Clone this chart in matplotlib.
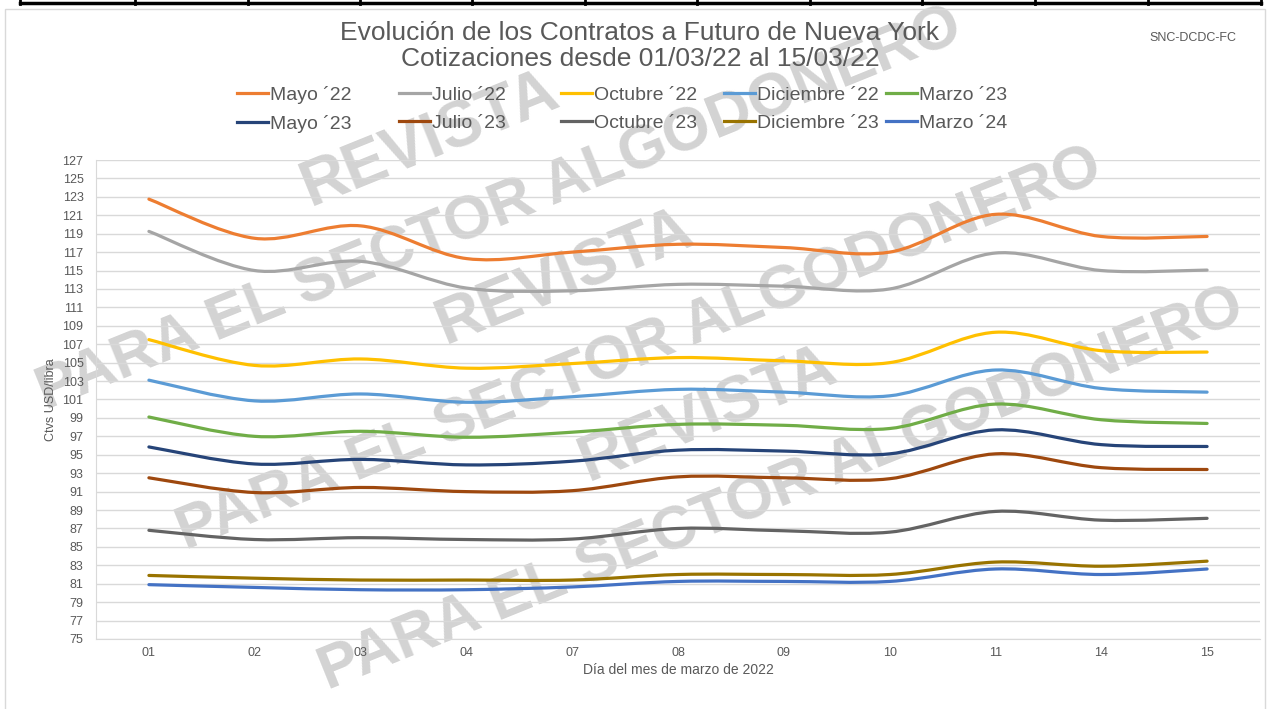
import matplotlib
matplotlib.use('Agg')
import matplotlib.pyplot as plt
from matplotlib.path import Path
from matplotlib.patches import PathPatch, Rectangle
from matplotlib.lines import Line2D
import numpy as np

plt.rcParams['font.family'] = ['Liberation Sans', 'DejaVu Sans']

# ---------------- data ----------------
days = ['01', '02', '03', '04', '07', '08', '09', '10', '11', '14', '15']
mayo22 = [122.75, 118.5, 119.85, 116.3, 117.0, 117.85, 117.5, 117.0, 121.1, 118.7, 118.7]
julio22 = [119.25, 115.0, 116.0, 113.1, 112.8, 113.5, 113.3, 113.0, 116.9, 115.0, 115.05]
octubre22 = [107.5, 104.7, 105.4, 104.4, 104.9, 105.55, 105.2, 105.0, 108.3, 106.3, 106.15]
diciembre22 = [103.1, 100.85, 101.6, 100.7, 101.3, 102.1, 101.8, 101.4, 104.2, 102.2, 101.8]
marzo23 = [99.1, 97.0, 97.55, 96.9, 97.45, 98.3, 98.2, 97.85, 100.5, 98.8, 98.4]
mayo23 = [95.85, 94.0, 94.5, 93.9, 94.3, 95.5, 95.4, 95.1, 97.7, 96.1, 95.9]
julio23 = [92.5, 90.9, 91.45, 91.0, 91.1, 92.6, 92.5, 92.4, 95.1, 93.6, 93.4]
octubre23 = [86.8, 85.8, 86.0, 85.8, 85.85, 87.0, 86.75, 86.6, 88.85, 87.9, 88.1]
diciembre23 = [81.9, 81.6, 81.4, 81.4, 81.4, 82.0, 82.0, 82.0, 83.35, 82.9, 83.45]
marzo24 = [80.9, 80.6, 80.35, 80.35, 80.65, 81.25, 81.25, 81.25, 82.6, 82.0, 82.6]

series_names = ['Mayo \u00b422', 'Julio \u00b422', 'Octubre \u00b422', 'Diciembre \u00b422', 'Marzo \u00b423',
                'Mayo \u00b423', 'Julio \u00b423', 'Octubre \u00b423', 'Diciembre \u00b423', 'Marzo \u00b424']
series_values = [mayo22, julio22, octubre22, diciembre22, marzo23,
                 mayo23, julio23, octubre23, diciembre23, marzo24]
colors = ['#ED7D31', '#A5A5A5', '#FFC000', '#5B9BD5', '#70AD47',
          '#264478', '#9E480E', '#636363', '#997300', '#4472C4']

yticks = list(range(75, 128, 2))

title_1 = 'Evoluci\u00f3n de los Contratos a Futuro de Nueva York'
title_2 = 'Cotizaciones desde 01/03/22 al 15/03/22'
ylabel = 'Ctvs USD/libra'
xlabel = 'D\u00eda del mes de marzo de 2022'
source = 'SNC-DCDC-FC'

TXT = '#595959'
GRID = '#d9d9d9'
W, H = 1270, 709


def smooth_path(xs, ys):
    pts = np.column_stack([xs, ys]).astype(float)
    n = len(pts)
    verts = [pts[0]]
    codes = [Path.MOVETO]
    for i in range(n - 1):
        p0 = pts[i - 1] if i > 0 else pts[i]
        p1 = pts[i]
        p2 = pts[i + 1]
        p3 = pts[i + 2] if i + 2 < n else pts[i + 1]
        c1 = p1 + (p2 - p0) / 6.0
        c2 = p2 - (p3 - p1) / 6.0
        verts += [c1, c2, p2]
        codes += [Path.CURVE4] * 3
    return Path(verts, codes)


fig = plt.figure(figsize=(W / 100, H / 100), dpi=100)
fig.patch.set_facecolor('white')

# decorative top table edge and chart border
fig.add_artist(Line2D([20 / W, 1261 / W], [1 - 3 / H, 1 - 3 / H], color='black', lw=2.5,
                      transform=fig.transFigure))
for xv in [20, 135, 248, 360, 472, 585, 697, 810, 922, 1035, 1148, 1261]:
    fig.add_artist(Line2D([xv / W, xv / W], [1.0, 1 - 4 / H], color='black', lw=2.0,
                          transform=fig.transFigure))
fig.add_artist(Rectangle((5 / W, -0.01), (1265 - 5) / W, 1 - 9 / H + 0.01, fill=False,
                         edgecolor=GRID, lw=1.0, transform=fig.transFigure))

# watermark
wm_color = '#d3d3d3'
for (cx, cy) in [(500, 210), (640, 350), (782, 490)]:
    fig.text(cx / W, 1 - cy / H, 'PARA EL SECTOR ALGODONERO', rotation=22, rotation_mode='anchor',
             ha='center', va='center', fontsize=44, fontweight='heavy', color=wm_color, zorder=-5)
for (cx, cy) in [(430, 140), (565, 278), (708, 415)]:
    fig.text(cx / W, 1 - cy / H, 'REVISTA', rotation=22, rotation_mode='anchor',
             ha='center', va='center', fontsize=46, fontweight='heavy', color=wm_color, zorder=-5)

ax = fig.add_axes([96 / W, 1 - 639 / H, (1260 - 96) / W, (639 - 160) / H])
ax.patch.set_alpha(0)

x = np.arange(len(days))
for vals, col in zip(series_values, colors):
    ax.add_patch(PathPatch(smooth_path(x, vals), facecolor='none', edgecolor=col, lw=2.3,
                           capstyle='round', joinstyle='round', zorder=3))

ax.set_xlim(-0.5, len(days) - 0.5)
ax.set_ylim(75, 127)
ax.set_yticks(yticks)
ax.set_xticks(x)
ax.set_xticklabels(days)
ax.yaxis.grid(True, color=GRID, lw=1.0)
ax.set_axisbelow(True)
for s in ['top', 'right']:
    ax.spines[s].set_visible(False)
ax.spines['left'].set_color(GRID)
ax.spines['bottom'].set_color(GRID)
ax.tick_params(axis='both', length=0, labelsize=9, labelcolor=TXT)
ax.tick_params(axis='y', pad=9)
ax.tick_params(axis='x', pad=6)
ax.set_xlabel(xlabel, fontsize=10, color=TXT, labelpad=3)
ax.set_ylabel(ylabel, fontsize=9, color=TXT, labelpad=4)

fig.text(640 / W, 1 - 33 / H, title_1, ha='center', va='center', fontsize=19, color=TXT)
fig.text(640 / W, 1 - 59 / H, title_2, ha='center', va='center', fontsize=19, color=TXT)
fig.text(1193 / W, 1 - 38 / H, source, ha='center', va='center', fontsize=9, color=TXT)

# legend: five columns of two entries each
handles = [Line2D([], [], color=c, lw=2.3) for c in colors]
col_x = [237, 399, 561, 724, 886]
for j, cxp in enumerate(col_x):
    leg = fig.legend([handles[j], handles[j + 5]], [series_names[j], series_names[j + 5]],
                     loc='upper left', bbox_to_anchor=(cxp / W, 1 - 86 / H),
                     bbox_transform=fig.transFigure, frameon=False, fontsize=14,
                     handlelength=1.6, handletextpad=0.1, borderpad=0, borderaxespad=0,
                     labelspacing=0.55)
    for t in leg.get_texts():
        t.set_color(TXT)

fig.savefig('out.png', dpi=100)
